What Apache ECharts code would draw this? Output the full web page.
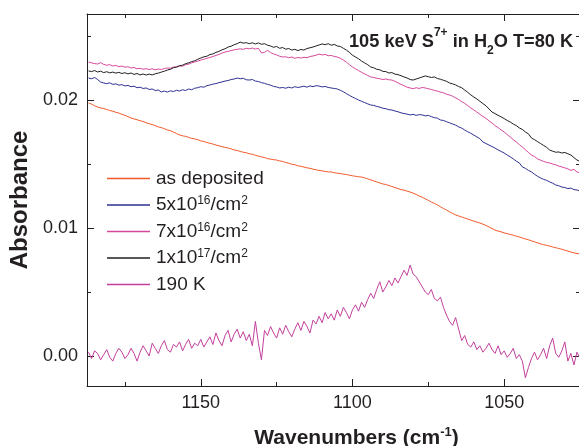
<!DOCTYPE html>
<html><head><meta charset="utf-8">
<script src="https://cdn.jsdelivr.net/npm/echarts@6/dist/echarts.min.js"></script>
<style>html,body{margin:0;padding:0;background:#fff}#c{width:579px;height:446px}</style>
</head><body><div id="c"></div>
<script>
const wavenumbers = [
1187,1186,1185,1184,1183,1182,1181,1180,1179,1178,
1177,1176,1175,1174,1173,1172,1171,1170,1169,1168,
1167,1166,1165,1164,1163,1162,1161,1160,1159,1158,
1157,1156,1155,1154,1153,1152,1151,1150,1149,1148,
1147,1146,1145,1144,1143,1142,1141,1140,1139,1138,
1137,1136,1135,1134,1133,1132,1131,1130,1129,1128,
1127,1126,1125,1124,1123,1122,1121,1120,1119,1118,
1117,1116,1115,1114,1113,1112,1111,1110,1109,1108,
1107,1106,1105,1104,1103,1102,1101,1100,1099,1098,
1097,1096,1095,1094,1093,1092,1091,1090,1089,1088,
1087,1086,1085,1084,1083,1082,1081,1080,1079,1078,
1077,1076,1075,1074,1073,1072,1071,1070,1069,1068,
1067,1066,1065,1064,1063,1062,1061,1060,1059,1058,
1057,1056,1055,1054,1053,1052,1051,1050,1049,1048,
1047,1046,1045,1044,1043,1042,1041,1040,1039,1038,
1037,1036,1035,1034,1033,1032,1031,1030,1029,1028,
1027,1026,1025];

const asDeposited = [
0.01977,0.01968,0.01955,0.01945,0.01938,0.01934,0.01925,0.01918,0.01912,0.01904,
0.01898,0.01888,0.01880,0.01870,0.01859,0.01852,0.01846,0.01838,0.01832,0.01822,
0.01815,0.01808,0.01800,0.01790,0.01784,0.01776,0.01766,0.01760,0.01750,0.01738,
0.01727,0.01720,0.01716,0.01708,0.01700,0.01696,0.01690,0.01680,0.01676,0.01668,
0.01662,0.01656,0.01648,0.01642,0.01636,0.01630,0.01625,0.01618,0.01610,0.01606,
0.01598,0.01592,0.01588,0.01580,0.01576,0.01568,0.01562,0.01556,0.01550,0.01542,
0.01538,0.01534,0.01531,0.01524,0.01520,0.01512,0.01506,0.01498,0.01494,0.01486,
0.01482,0.01476,0.01470,0.01466,0.01460,0.01454,0.01450,0.01446,0.01442,0.01438,
0.01438,0.01432,0.01428,0.01426,0.01420,0.01418,0.01412,0.01408,0.01404,0.01400,
0.01398,0.01392,0.01384,0.01376,0.01368,0.01360,0.01352,0.01344,0.01340,0.01332,
0.01324,0.01316,0.01308,0.01300,0.01296,0.01288,0.01281,0.01272,0.01262,0.01250,
0.01240,0.01228,0.01216,0.01203,0.01192,0.01180,0.01166,0.01152,0.01140,0.01126,
0.01114,0.01102,0.01094,0.01086,0.01078,0.01070,0.01062,0.01054,0.01046,0.01039,
0.01030,0.01020,0.01008,0.00996,0.00984,0.00976,0.00970,0.00962,0.00956,0.00950,
0.00944,0.00936,0.00930,0.00922,0.00914,0.00908,0.00900,0.00892,0.00884,0.00876,
0.00870,0.00864,0.00859,0.00852,0.00846,0.00840,0.00834,0.00826,0.00820,0.00812,
0.00806,0.00800,0.00797];

const fluence5e16 = [
0.02172,0.02166,0.02176,0.02160,0.02140,0.02133,0.02128,0.02134,0.02122,0.02126,
0.02116,0.02120,0.02110,0.02114,0.02104,0.02108,0.02096,0.02100,0.02090,0.02094,
0.02082,0.02086,0.02074,0.02078,0.02063,0.02070,0.02062,0.02072,0.02066,0.02076,
0.02070,0.02080,0.02074,0.02086,0.02080,0.02092,0.02096,0.02104,0.02100,0.02112,
0.02117,0.02124,0.02128,0.02136,0.02141,0.02148,0.02152,0.02160,0.02164,0.02172,
0.02166,0.02170,0.02158,0.02156,0.02160,0.02148,0.02144,0.02136,0.02130,0.02122,
0.02116,0.02106,0.02102,0.02094,0.02098,0.02092,0.02100,0.02094,0.02104,0.02098,
0.02102,0.02108,0.02100,0.02110,0.02104,0.02112,0.02109,0.02102,0.02106,0.02098,
0.02094,0.02090,0.02086,0.02076,0.02064,0.02050,0.02036,0.02023,0.02012,0.02000,
0.01990,0.01980,0.01970,0.01961,0.01958,0.01950,0.01944,0.01936,0.01932,0.01924,
0.01922,0.01914,0.01908,0.01900,0.01894,0.01890,0.01883,0.01888,0.01880,0.01886,
0.01883,0.01876,0.01880,0.01870,0.01862,0.01858,0.01844,0.01840,0.01830,0.01822,
0.01812,0.01804,0.01790,0.01780,0.01766,0.01752,0.01740,0.01726,0.01712,0.01698,
0.01672,0.01660,0.01648,0.01636,0.01624,0.01610,0.01598,0.01586,0.01570,0.01556,
0.01540,0.01522,0.01508,0.01477,0.01466,0.01450,0.01438,0.01420,0.01404,0.01391,
0.01380,0.01372,0.01360,0.01350,0.01336,0.01330,0.01320,0.01316,0.01308,0.01312,
0.01300,0.01297,0.01290];

const fluence7e16 = [
0.02297,0.02290,0.02285,0.02281,0.02292,0.02278,0.02272,0.02276,0.02266,0.02270,
0.02260,0.02265,0.02256,0.02260,0.02250,0.02254,0.02244,0.02248,0.02240,0.02245,
0.02238,0.02244,0.02236,0.02242,0.02238,0.02246,0.02250,0.02248,0.02258,0.02256,
0.02266,0.02264,0.02276,0.02280,0.02290,0.02297,0.02304,0.02312,0.02318,0.02326,
0.02332,0.02340,0.02348,0.02356,0.02366,0.02375,0.02380,0.02386,0.02392,0.02396,
0.02400,0.02396,0.02404,0.02400,0.02406,0.02398,0.02404,0.02367,0.02372,0.02388,
0.02370,0.02360,0.02352,0.02342,0.02336,0.02338,0.02330,0.02336,0.02326,0.02332,
0.02328,0.02334,0.02330,0.02340,0.02344,0.02350,0.02359,0.02352,0.02356,0.02346,
0.02348,0.02340,0.02336,0.02326,0.02312,0.02296,0.02276,0.02258,0.02244,0.02230,
0.02216,0.02204,0.02192,0.02180,0.02176,0.02170,0.02166,0.02160,0.02164,0.02158,
0.02156,0.02146,0.02134,0.02122,0.02112,0.02100,0.02094,0.02088,0.02096,0.02090,
0.02098,0.02094,0.02088,0.02082,0.02074,0.02070,0.02062,0.02056,0.02046,0.02039,
0.02030,0.02016,0.02004,0.01988,0.01974,0.01956,0.01938,0.01922,0.01906,0.01888,
0.01872,0.01856,0.01838,0.01820,0.01800,0.01784,0.01766,0.01750,0.01730,0.01711,
0.01690,0.01672,0.01652,0.01632,0.01612,0.01590,0.01570,0.01558,0.01540,0.01530,
0.01520,0.01512,0.01508,0.01500,0.01494,0.01484,0.01477,0.01470,0.01462,0.01450,
0.01458,0.01438,0.01430];

const fluence1e17 = [
0.02227,0.02222,0.02230,0.02219,0.02225,0.02214,0.02221,0.02212,0.02218,0.02210,
0.02216,0.02207,0.02213,0.02204,0.02211,0.02200,0.02207,0.02196,0.02203,0.02195,
0.02202,0.02196,0.02205,0.02210,0.02218,0.02225,0.02234,0.02240,0.02252,0.02258,
0.02268,0.02272,0.02284,0.02290,0.02300,0.02306,0.02318,0.02328,0.02337,0.02342,
0.02355,0.02360,0.02372,0.02380,0.02392,0.02400,0.02414,0.02420,0.02432,0.02440,
0.02452,0.02444,0.02448,0.02440,0.02447,0.02438,0.02446,0.02435,0.02440,0.02428,
0.02422,0.02412,0.02418,0.02404,0.02410,0.02397,0.02402,0.02390,0.02396,0.02386,
0.02395,0.02390,0.02402,0.02408,0.02414,0.02422,0.02430,0.02438,0.02432,0.02440,
0.02428,0.02434,0.02422,0.02418,0.02404,0.02390,0.02372,0.02350,0.02336,0.02322,
0.02304,0.02290,0.02276,0.02258,0.02252,0.02240,0.02236,0.02224,0.02222,0.02211,
0.02214,0.02202,0.02198,0.02190,0.02180,0.02172,0.02160,0.02156,0.02164,0.02172,
0.02180,0.02188,0.02182,0.02176,0.02180,0.02168,0.02162,0.02154,0.02146,0.02133,
0.02126,0.02118,0.02105,0.02096,0.02078,0.02060,0.02040,0.02023,0.02008,0.01990,
0.01972,0.01955,0.01930,0.01906,0.01894,0.01880,0.01868,0.01855,0.01840,0.01828,
0.01812,0.01800,0.01782,0.01770,0.01750,0.01736,0.01703,0.01690,0.01675,0.01660,
0.01645,0.01630,0.01609,0.01600,0.01592,0.01594,0.01586,0.01590,0.01580,0.01570,
0.01550,0.01531,0.01520];

const warm190K = [
0.0003,-0.0002,0.0004,0.0002,-0.0003,0.0001,0.0005,-0.0001,-0.0004,0.0002,
0.0006,0.0003,-0.0002,0.0001,0.0006,0.0002,-0.0004,0.0003,0.0008,0.0004,
0.0000,0.0010,0.0006,0.0002,0.0008,0.0012,0.0005,0.0003,0.0009,0.0007,
0.0011,0.0004,0.0009,0.0013,0.0006,0.0010,0.0008,0.0013,0.0007,0.0011,
0.0015,0.0009,0.0018,0.0012,0.0008,0.0016,0.0020,0.0011,0.0017,0.0021,
0.0014,0.0019,0.0012,0.0017,0.0008,0.0027,0.0010,-0.0003,0.0020,0.0016,
0.0023,0.0018,0.0014,0.0022,0.0017,0.0024,0.0019,0.0015,0.0021,0.0026,
0.0020,0.0027,0.0023,0.0018,0.0028,0.0025,0.0031,0.0026,0.0034,0.0029,
0.0033,0.0028,0.0036,0.0031,0.0038,0.0034,0.0029,0.0036,0.0040,0.0035,
0.0042,0.0038,0.0044,0.0049,0.0045,0.0052,0.0058,0.0050,0.0054,0.0059,
0.0055,0.0061,0.0057,0.0062,0.0067,0.0063,0.0071,0.0064,0.0062,0.0058,
0.0054,0.0050,0.0048,0.0052,0.0045,0.0043,0.0046,0.0038,0.0032,0.0027,
0.0024,0.0030,0.0021,0.0012,0.0016,0.0009,0.0007,0.0011,0.0005,0.0008,
0.0003,0.0006,0.0010,0.0005,0.0002,0.0008,0.0001,0.0004,-0.0001,0.0002,
0.0006,-0.0002,0.0001,-0.0004,-0.0017,-0.0009,-0.0002,0.0003,-0.0003,0.0001,
0.0006,-0.0002,0.0008,0.0014,0.0002,-0.0001,0.0004,0.0011,-0.0004,0.0002,
-0.0007,0.0003,-0.0002];

const seriesNames = ['as deposited','5x10^16/cm^2','7x10^16/cm^2','1x10^17/cm^2','190 K'];
const seriesColors = ['#f15a2b','#2e3192','#d6489c','#231f20','#c2409c'];
const xTickLabels = [1150,1100,1050];
const xMinorTicks = [1175,1125,1075,1025];
const yTickLabels = [0,0.01,0.02];
const yMinorTicks = [0.005,0.015,0.025];

const FONT = '"Liberation Sans", Arial, Helvetica, sans-serif';
const INK = '#231f20';
const allData = [asDeposited, fluence5e16, fluence7e16, fluence1e17, warm190K];

function richName(name){
  const parts = name.split(/\^(-?\d+)/);
  let out = '';
  parts.forEach((p,i)=>{ if(!p) return; out += (i%2 ? '{s|'+p+'}' : '{t|'+p+'}'); });
  return out;
}

const chart = echarts.init(document.getElementById('c'), null, {renderer:'canvas'});
const lineSt = {color: INK, width: 1};
function xAx(pos, vals, len, withLine, label){
  return {type:'value', position:pos, min:1025, max:1187.5, inverse:true,
    axisLine:{show:withLine, onZero:false, lineStyle:lineSt},
    axisTick:{show:true, inside:true, length:len, customValues:vals, lineStyle:lineSt},
    axisLabel: label ? {show:true, customValues:vals, fontSize:18, color:INK, fontFamily:FONT, margin:8,
      formatter:v=>String(v)} : {show:false},
    splitLine:{show:false}};
}
function yAx(pos, vals, len, withLine, label){
  return {type:'value', position:pos, min:-0.002344, max:0.026719,
    axisLine:{show:withLine, onZero:false, lineStyle:lineSt},
    axisTick:{show:true, inside:true, length:len, customValues:vals, lineStyle:lineSt},
    axisLabel: label ? {show:true, customValues:vals, fontSize:18, color:INK, fontFamily:FONT, margin:9,
      formatter:v=>v.toFixed(2)} : {show:false},
    splitLine:{show:false}};
}
const xAxes = [xAx('bottom', xTickLabels, 7, true, true), xAx('bottom', xMinorTicks, 4, false, false),
  xAx('top', xTickLabels, 7, true, false), xAx('top', xMinorTicks, 4, false, false)];
xAxes[0].name = '{n|Wavenumbers (cm}{s|-1}{n|)}';
xAxes[0].nameLocation = 'middle';
xAxes[0].nameGap = 40;
xAxes[0].nameTextStyle = {padding:[0,0,0,46], rich:{
  n:{fontSize:21, fontWeight:'bold', color:INK, fontFamily:FONT, lineHeight:24},
  s:{fontSize:13, fontWeight:'bold', color:INK, fontFamily:FONT, lineHeight:13, verticalAlign:'top'}}};
const yAxes = [yAx('left', yTickLabels, 7, true, true), yAx('left', yMinorTicks, 4, false, false),
  yAx('right', yTickLabels, 7, true, false), yAx('right', yMinorTicks, 4, false, false)];
yAxes[0].name = 'Absorbance';
yAxes[0].nameLocation = 'middle';
yAxes[0].nameGap = 45;
yAxes[0].nameTextStyle = {fontSize:24, fontWeight:'bold', color:INK, fontFamily:FONT};

chart.setOption({
  animation:false,
  backgroundColor:'#fff',
  title:{
    text:'{b|105 keV S}{p|7+}{b| in H}{d|2}{b|O T=80 K}',
    left:344, top:26,
    textStyle:{rich:{
      b:{fontSize:18.2, fontWeight:'bold', color:INK, fontFamily:FONT, lineHeight:22},
      p:{fontSize:12, fontWeight:'bold', color:INK, fontFamily:FONT, lineHeight:12, verticalAlign:'top', padding:[-4,0,0,0]},
      d:{fontSize:12, fontWeight:'bold', color:INK, fontFamily:FONT, lineHeight:12, verticalAlign:'bottom', padding:[0,0,-4,0]}
    }}
  },
  legend:{
    orient:'vertical', left:102, top:162, itemWidth:43, itemHeight:1.5, itemGap:3.5, icon:'rect',
    data: seriesNames,
    formatter: n => richName(n),
    textStyle:{padding:[0,0,0,1], rich:{
      t:{fontSize:19, color:INK, fontFamily:FONT, lineHeight:20, padding:[2,0,2,0]},
      s:{fontSize:12, color:INK, fontFamily:FONT, lineHeight:12, verticalAlign:'top'}
    }}
  },
  grid:{left:87, top:14, width:493, height:372, containLabel:false, outerBoundsMode:'none'},
  xAxis: xAxes,
  yAxis: yAxes,
  series: seriesNames.map((name,k)=>({
    name, type:'line', xAxisIndex:0, yAxisIndex:0, showSymbol:false, symbol:'none',
    color: seriesColors[k],
    lineStyle:{width:1, color:seriesColors[k]},
    data: wavenumbers.map((w,i)=>[w, allData[k][i]])
  }))
});
</script>
</body></html>
